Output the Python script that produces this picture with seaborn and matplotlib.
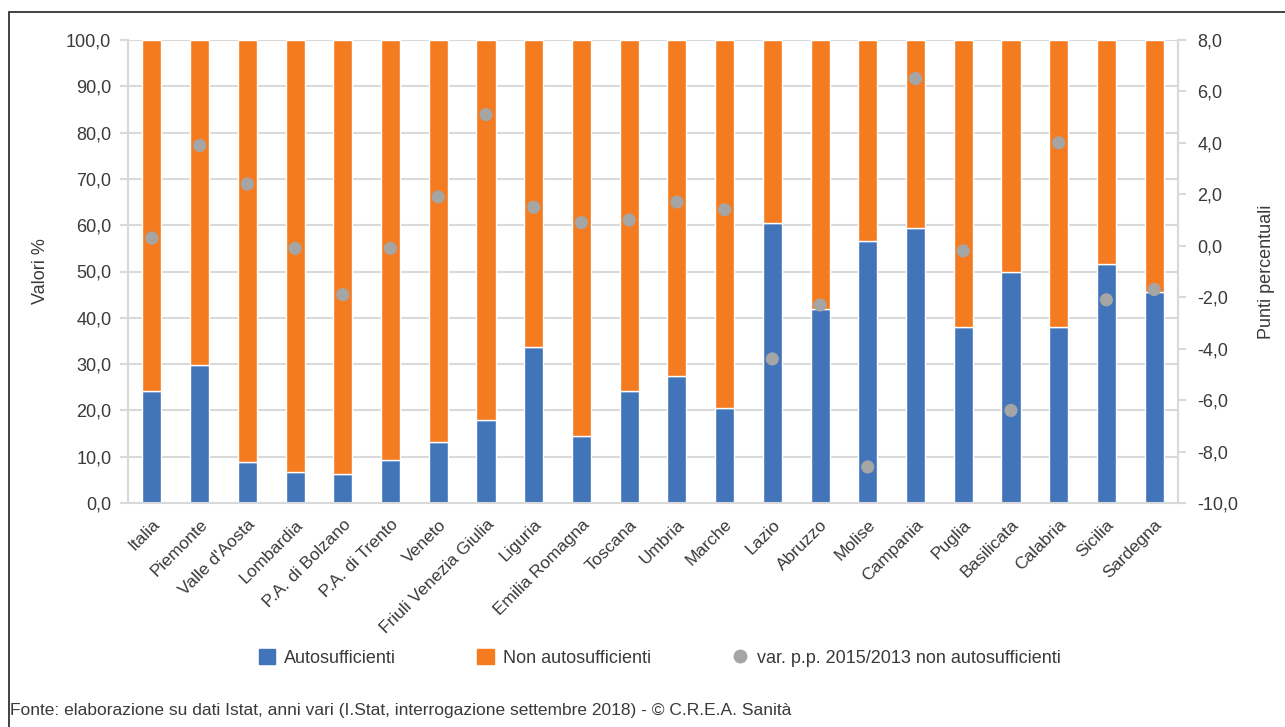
import numpy as np
import pandas as pd
import seaborn as sb
import matplotlib.pyplot as plt
from matplotlib.patches import Patch, Rectangle
from matplotlib.lines import Line2D
from matplotlib.ticker import FuncFormatter, FixedLocator

# ---- data ----
regions = ['Italia', 'Piemonte', "Valle d'Aosta", 'Lombardia', 'P.A. di Bolzano',
           'P.A. di Trento', 'Veneto', 'Friuli Venezia Giulia', 'Liguria',
           'Emilia Romagna', 'Toscana', 'Umbria', 'Marche', 'Lazio', 'Abruzzo',
           'Molise', 'Campania', 'Puglia', 'Basilicata', 'Calabria', 'Sicilia', 'Sardegna']
autosufficienti = [24.1, 29.7, 8.8, 6.6, 6.2, 9.2, 13.2, 18.0, 33.6, 14.5, 24.1,
                   27.5, 20.6, 60.4, 42.0, 56.5, 59.5, 38.1, 49.8, 38.1, 51.6, 45.5]
non_autosufficienti = [100 - v for v in autosufficienti]
var_pp = [0.3, 3.9, 2.4, -0.1, -1.9, -0.1, 1.9, 5.1, 1.5, 0.9, 1.0,
          1.7, 1.4, -4.4, -2.3, -8.6, 6.5, -0.2, -6.4, 4.0, -2.1, -1.7]

BLUE = '#4174B9'
ORANGE = '#F47B20'
GREY = '#A5A5A5'
GRID = '#D9D9D9'
TXT = '#3A3A3A'

sb.set_style('white')
plt.rcParams['font.family'] = ['Liberation Sans Narrow', 'Liberation Sans', 'DejaVu Sans']

df = pd.DataFrame({'regione': regions, 'auto': autosufficienti,
                   'non_auto': non_autosufficienti, 'var': var_pp})
df['pos'] = np.arange(len(df))

fig = plt.figure(figsize=(12.85, 7.27), dpi=100)
ax = fig.add_axes([128/1285, 1-503/727, 1050/1285, 463/727])

# stacked bars: blue bottom, orange on top
sb.barplot(data=df, x='regione', y='auto', color=BLUE, width=0.4, ax=ax,
           saturation=1, zorder=2)
sb.barplot(data=df, x='regione', y='non_auto', bottom=df['auto'], color=ORANGE,
           width=0.4, ax=ax, saturation=1, zorder=2)

ax.set_ylim(0, 100)
ax.set_xlim(-0.5, len(df) - 0.5)
ax.set_yticks(np.arange(0, 101, 10))
ax.yaxis.set_major_formatter(FuncFormatter(lambda v, p: f'{v:.1f}'.replace('.', ',')))
ax.grid(axis='y', color=GRID, lw=1.5, zorder=0)
ax.set_axisbelow(True)
ax.set_xlabel('')
ax.set_ylabel('Valori %', fontsize=13, color=TXT, labelpad=12)

# category labels, ticks between categories
ax.set_xticks(df['pos'])
ax.set_xticklabels(regions, rotation=45, ha='right', rotation_mode='anchor',
                   fontsize=12.5, color=TXT)
ax.tick_params(axis='x', which='major', length=0, pad=10)
ax.xaxis.set_minor_locator(FixedLocator(np.arange(-0.5, len(df), 1)))
ax.tick_params(axis='x', which='minor', length=6, width=1.5, color=GRID)
ax.tick_params(axis='y', length=6, width=1.5, color=GRID, labelsize=13,
               labelcolor=TXT, pad=6)

for side in ['top']:
    ax.spines[side].set_visible(False)
for side in ['left', 'bottom', 'right']:
    ax.spines[side].set_color(GRID)
    ax.spines[side].set_linewidth(1.5)

# secondary axis: change in percentage points
ax2 = ax.twinx()
sb.scatterplot(x=df['pos'], y=df['var'], color=GREY, s=90, edgecolor='none',
               ax=ax2, zorder=3)
ax2.set_ylim(-10, 8)
ax2.set_xlim(-0.5, len(df) - 0.5)
ax2.set_yticks(np.arange(-10, 8.1, 2))
ax2.yaxis.set_major_formatter(FuncFormatter(lambda v, p: f'{v:.1f}'.replace('.', ',')))
ax2.tick_params(axis='y', length=6, width=1.5, color=GRID, labelsize=13,
                labelcolor=TXT, pad=8)
ax2.set_ylabel('Punti percentuali', fontsize=13, color=TXT, labelpad=14)
ax2.set_xlabel('')
for side in ['top', 'left', 'bottom']:
    ax2.spines[side].set_visible(False)
ax2.spines['right'].set_color(GRID)
ax2.spines['right'].set_linewidth(1.5)

# legend
handles = [Patch(color=BLUE, label='Autosufficienti'),
           Patch(color=ORANGE, label='Non autosufficienti'),
           Line2D([], [], marker='o', ls='', color=GREY, markersize=9,
                  label='var. p.p. 2015/2013 non autosufficienti')]
leg = fig.legend(handles=handles, loc='center', bbox_to_anchor=(660/1285, 1-658/727),
                 ncol=3, frameon=False, fontsize=13, handlelength=0.9, handleheight=0.9,
                 columnspacing=4.5, handletextpad=0.5)
for t in leg.get_texts():
    t.set_color(TXT)

fig.text(10/1285, 1-710/727, 'Fonte: elaborazione su dati Istat, anni vari (I.Stat, interrogazione '
         'settembre 2018) - © C.R.E.A. Sanità', fontsize=12.5, color=TXT, va='center')

# frame around the chart area
fig.add_artist(Rectangle((9/1285, -0.2), 1.2, 1.2 - 12/727 + 0.0, transform=fig.transFigure,
                         fill=False, edgecolor='#333333', lw=1.3))

fig.savefig('out.png', dpi=100)
plt.close('all')
